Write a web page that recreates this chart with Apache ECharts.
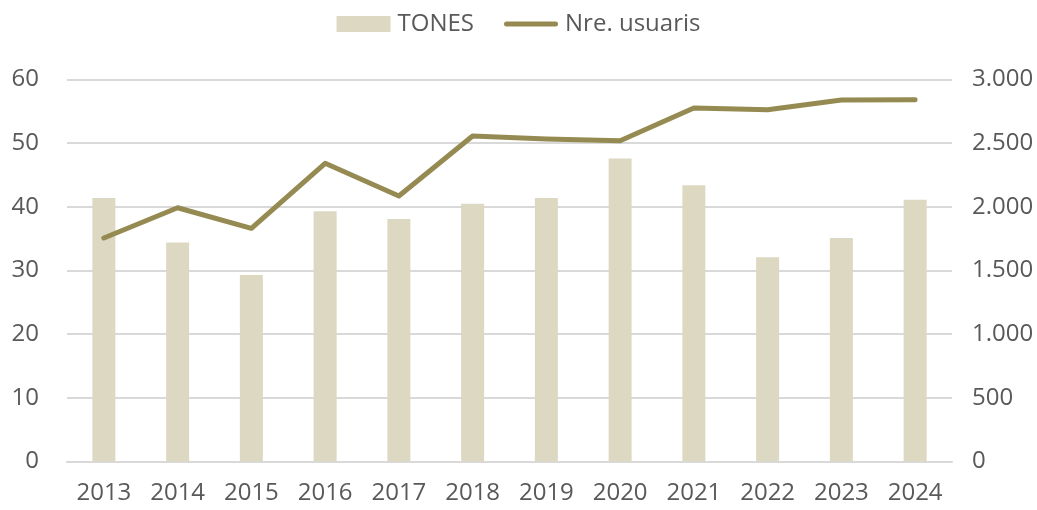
<!DOCTYPE html>
<html>
<head>
<meta charset="utf-8">
<script src="https://cdn.jsdelivr.net/npm/echarts@6/dist/echarts.min.js"></script>
<style>
html,body{margin:0;padding:0;background:#fff;}
#chart{width:1037px;height:510px;}
</style>
</head>
<body>
<div id="chart"></div>
<script>
const categories = ['2013','2014','2015','2016','2017','2018','2019','2020','2021','2022','2023','2024'];
const tones = [41.4, 34.4, 29.3, 39.3, 38.1, 40.5, 41.4, 47.6, 43.4, 32.1, 35.1, 41.1];
const usuaris = [1755, 1993, 1831, 2342, 2085, 2556, 2533, 2519, 2776, 2763, 2839, 2841];
const seriesNames = ['TONES', 'Nre. usuaris'];

const textColor = '#595959';
const fontFamily = '"Open Sans", "Noto Sans", sans-serif';
const fontSize = 24;

function fmtThousands(v) {
  return String(v).replace(/\B(?=(\d{3})+(?!\d))/g, '.');
}

const chart = echarts.init(document.getElementById('chart'), null, {renderer: 'canvas'});
chart.setOption({
  animation: false,
  backgroundColor: '#ffffff',
  textStyle: {fontFamily: fontFamily, color: textColor},
  legend: {
    top: 7,
    left: 'center',
    itemWidth: 54,
    itemHeight: 16,
    itemGap: 30,
    textStyle: {fontSize: fontSize, color: textColor, fontFamily: fontFamily, padding: [0, 0, 0, 2]},
    data: [
      {name: seriesNames[0], icon: 'rect', itemStyle: {color: '#ddd8c2'}},
      {name: seriesNames[1], icon: 'path://M2.5,0 L51.5,0 A2.5,2.5 0 0 1 51.5,5 L2.5,5 A2.5,2.5 0 0 1 2.5,0 Z',
        itemStyle: {color: '#958b52'}}
    ]
  },
  grid: {left: 67, right: 85, top: 79.5, bottom: 48.5, containLabel: false},
  xAxis: {
    type: 'category',
    data: categories,
    axisLine: {show: true, lineStyle: {color: '#d9d9d9', width: 2}},
    axisTick: {show: false},
    axisLabel: {color: textColor, fontSize: fontSize, fontFamily: fontFamily, margin: 20}
  },
  yAxis: [
    {
      type: 'value', min: 0, max: 60, interval: 10,
      axisLine: {show: false}, axisTick: {show: false},
      splitLine: {lineStyle: {color: '#d9d9d9', width: 2}},
      axisLabel: {color: textColor, fontSize: fontSize, fontFamily: fontFamily, margin: 28}
    },
    {
      type: 'value', min: 0, max: 3000, interval: 500,
      axisLine: {show: false}, axisTick: {show: false},
      splitLine: {show: false},
      axisLabel: {color: textColor, fontSize: fontSize, fontFamily: fontFamily, margin: 20,
        formatter: function (v) { return fmtThousands(v); }}
    }
  ],
  series: [
    {
      name: seriesNames[0], type: 'bar', yAxisIndex: 0, data: tones,
      barWidth: 23,
      itemStyle: {color: '#ddd8c2'}
    },
    {
      name: seriesNames[1], type: 'line', yAxisIndex: 1, data: usuaris,
      symbol: 'none',
      lineStyle: {color: '#958b52', width: 5, cap: 'round', join: 'round'},
      itemStyle: {color: '#958b52'}
    }
  ]
});
</script>
</body>
</html>
